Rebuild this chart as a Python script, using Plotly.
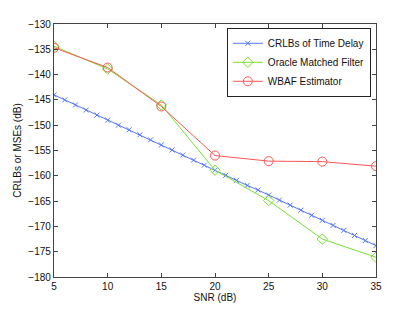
import plotly.graph_objects as go

snr_fine = list(range(5, 36))
crlb = [-144.0, -145.0, -146.0, -147.0, -148.0, -149.0, -150.0, -150.9, -151.9, -152.9,
        -153.9, -154.9, -155.9, -156.9, -157.9, -158.9, -159.9, -160.9, -161.9, -162.8,
        -163.8, -164.8, -165.8, -166.8, -167.8, -168.8, -169.8, -170.8, -171.8, -172.8, -173.8]

snr = [5, 10, 15, 20, 25, 30, 35]
oracle = [-134.4, -138.9, -146.0, -158.9, -164.9, -172.5, -176.1]
wbaf = [-134.7, -138.6, -146.3, -156.0, -157.1, -157.2, -158.1]

names = ["CRLBs of Time Delay", "Oracle Matched Filter", "WBAF Estimator"]

fig = go.Figure()
fig.add_trace(go.Scatter(x=snr_fine, y=crlb, mode="lines+markers", name=names[0],
                         line=dict(color="#5577ff", width=1),
                         marker=dict(symbol="x-thin-open", size=5, line=dict(color="#5577ff", width=1))))
fig.add_trace(go.Scatter(x=snr, y=oracle, mode="lines+markers", name=names[1],
                         line=dict(color="#77e033", width=1),
                         marker=dict(symbol="diamond-open", size=8, color="#77e033", line=dict(width=1))))
fig.add_trace(go.Scatter(x=snr, y=wbaf, mode="lines+markers", name=names[2],
                         line=dict(color="#ff5555", width=1),
                         marker=dict(symbol="circle-open", size=9, color="#ff5555", line=dict(width=1))))

axis_common = dict(showgrid=False, zeroline=False, showline=True, linecolor="#444", linewidth=1.2,
                   mirror="allticks", ticks="inside", ticklen=4, tickcolor="#444", automargin=False,
                   tickfont=dict(family="Liberation Sans, Arial", size=10, color="#111"))

fig.update_layout(
    width=415, height=313,
    margin=dict(l=54, r=39, t=24, b=36),
    paper_bgcolor="white", plot_bgcolor="white",
    font=dict(family="Liberation Sans, Arial", size=10, color="#111"),
    xaxis=dict(range=[5, 35], tickvals=[5, 10, 15, 20, 25, 30, 35],
               title=dict(text="SNR (dB)", font=dict(size=10), standoff=2), **axis_common),
    yaxis=dict(range=[-180, -130], tickvals=list(range(-180, -129, 5)),
               title=dict(text="CRLBs or MSEs (dB)", font=dict(size=10), standoff=4), **axis_common),
    legend=dict(x=0.984, y=0.985, xanchor="right", yanchor="top",
                bgcolor="white", bordercolor="#222", borderwidth=1,
                font=dict(size=10), tracegroupgap=0, itemwidth=30),
    showlegend=True,
)

fig.write_html("out.html", config={"displayModeBar": False},
               post_script="document.body.style.margin='0';document.body.style.overflow='hidden';")
